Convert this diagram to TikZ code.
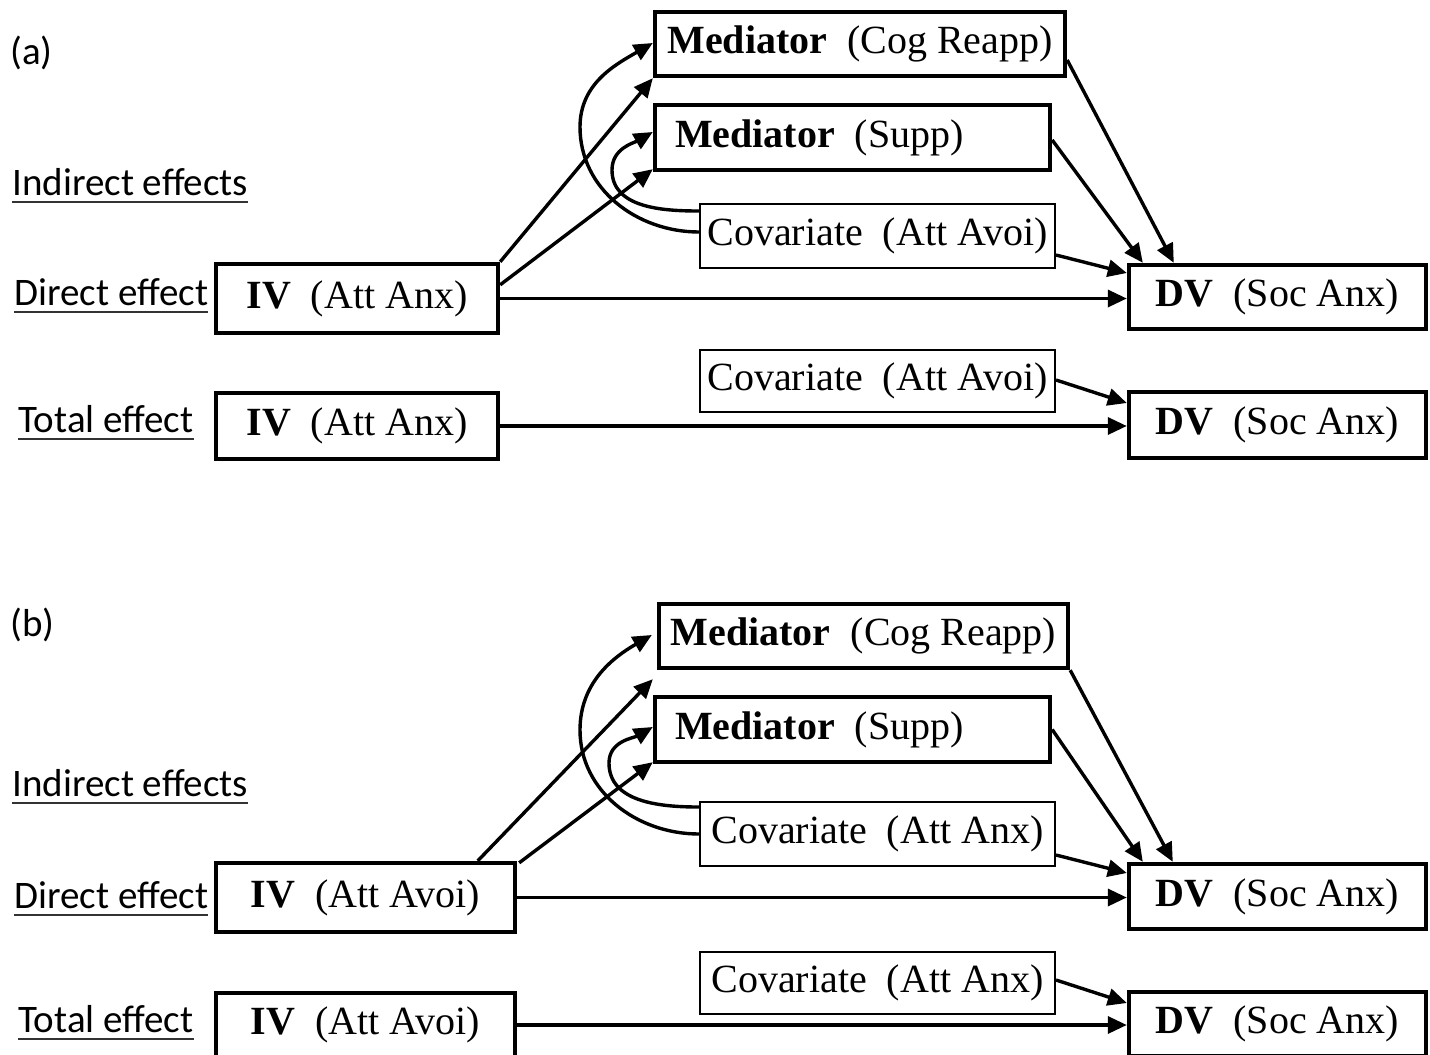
\documentclass[tikz,border=0pt]{standalone}
\usepackage{fontspec}
\setmainfont{Liberation Serif}
\newfontfamily\labfont{Carlito}
\usetikzlibrary{arrows.meta,calc}
\tikzset{
  boxfont/.style={font=\fontsize{20}{23}\selectfont},
  thickbox/.style={draw, line width=2.2pt, boxfont, inner sep=0pt, align=center},
  thinbox/.style={draw, line width=1pt, boxfont, inner sep=0pt, align=center},
  lab/.style={font=\labfont\fontsize{19.5}{23}\selectfont, inner sep=0pt, anchor=base west},
  arr/.style={line width=1.7pt, -{Triangle[length=9.5pt,width=8.5pt]}},
  uline/.style={line width=1.3pt, draw=black!80}
}
\newcommand{\leftbox}[1]{\makebox[177.5pt][l]{#1}}
\begin{document}
\begin{tikzpicture}[x=0.5pt,y=0.5pt]
\useasboundingbox (0,0) rectangle (1430,-1055);

% ---------------- panel (a) ----------------
\node[lab] (taga) at (10,-64) {(a)};
\node[lab] (ia) at (12,-195) {Indirect effects};
\node[lab] (da) at (14,-305) {Direct effect};
\node[lab] (ta) at (18,-432) {Total effect};

\node[thickbox, minimum width=205pt, minimum height=32pt] (med1a) at (860,-44) {\textbf{Mediator}\ \ (Cog Reapp)};
\node[thickbox, minimum width=197.5pt, minimum height=32.5pt] (med2a) at (852.5,-137.5) {\leftbox{\textbf{Mediator}\ \ (Supp)}};
\node[thinbox, minimum width=177.5pt, minimum height=32pt] (cova) at (877.5,-236) {Covariate\ \ (Att Avoi)};
\node[thickbox, minimum width=141pt, minimum height=34.5pt] (iva) at (357,-298.5) {\textbf{IV}\ \ (Att Anx)};
\node[thickbox, minimum width=148.5pt, minimum height=32pt] (dva) at (1277.5,-297) {\textbf{DV}\ \ (Soc Anx)};
\node[thinbox, minimum width=177.5pt, minimum height=31pt] (cov2a) at (877.5,-381) {Covariate\ \ (Att Avoi)};
\node[thickbox, minimum width=141pt, minimum height=33pt] (iv2a) at (357,-426) {\textbf{IV}\ \ (Att Anx)};
\node[thickbox, minimum width=148.5pt, minimum height=33pt] (dv2a) at (1277.5,-425) {\textbf{DV}\ \ (Soc Anx)};

\coordinate (ka1) at (580,-127);
\coordinate (ka2) at (612,-170);

\draw[arr] (iva.north east) -- (med1a.south west);
\draw[arr] ($(iva.north east)+(0,-23)$) -- ($(med2a.south west)+(0,3)$);
\draw[arr] (iva.east) -- (iva.east -| dva.west);
\draw[arr] ($(cova.west)+(0,4)$) to[out=180,in=-90] (ka1) to[out=90,in=210] ($(med1a.west)+(0,1)$);
\draw[arr] ($(cova.west)+(0,25)$) to[out=180,in=-90] (ka2) to[out=90,in=210] ($(med2a.west)+(0,5.5)$);
\draw[arr] ($(med1a.east)+(0,-16)$) -- ($(dva.north west)+(47,0)$);
\draw[arr] ($(med2a.east)+(0,-2.5)$) -- ($(dva.north west)+(16,0)$);
\draw[arr] ($(cova.east)+(0,-19)$) -- ($(dva.west)+(0,24)$);
\draw[arr] ($(cov2a.east)+(0,1)$) -- ($(dv2a.west)+(0,22)$);
\draw[arr] (iv2a.east) -- (iv2a.east -| dv2a.west);

% ---------------- panel (b) ----------------
\node[lab] (tagb) at (10,-636) {(b)};
\node[lab] (ib) at (12,-796) {Indirect effects};
\node[lab] (db) at (14,-908) {Direct effect};
\node[lab] (tb) at (18,-1032) {Total effect};

\node[thickbox, minimum width=204.5pt, minimum height=32pt] (med1b) at (863.5,-636) {\textbf{Mediator}\ \ (Cog Reapp)};
\node[thickbox, minimum width=197.5pt, minimum height=32.5pt] (med2b) at (852.5,-729.5) {\leftbox{\textbf{Mediator}\ \ (Supp)}};
\node[thinbox, minimum width=177.5pt, minimum height=32pt] (covb) at (877.5,-834) {Covariate\ \ (Att Anx)};
\node[thickbox, minimum width=149.5pt, minimum height=34.5pt] (ivb) at (365.5,-897.5) {\textbf{IV}\ \ (Att Avoi)};
\node[thickbox, minimum width=148.5pt, minimum height=32.5pt] (dvb) at (1277.5,-896.5) {\textbf{DV}\ \ (Soc Anx)};
\node[thinbox, minimum width=177.5pt, minimum height=31pt] (cov2b) at (877.5,-983) {Covariate\ \ (Att Anx)};
\node[thickbox, minimum width=149.5pt, minimum height=32pt] (iv2b) at (365.5,-1025) {\textbf{IV}\ \ (Att Avoi)};
\node[thickbox, minimum width=148.5pt, minimum height=32pt] (dv2b) at (1277.5,-1024) {\textbf{DV}\ \ (Soc Anx)};

\coordinate (kb1) at (580,-730);
\coordinate (kb2) at (609,-763);

\draw[arr] ($(ivb.north west)+(264,0)$) -- ($(med1b.south west)+(-4,-9)$);
\draw[arr] ($(ivb.north east)+(2,-2)$) -- ($(med2b.south west)+(0,2)$);
\draw[arr] (ivb.east) -- (ivb.east -| dvb.west);
\draw[arr] (covb.west) to[out=180,in=-90] (kb1) to[out=90,in=210] ($(med1b.west)+(-5,1)$);
\draw[arr] ($(covb.west)+(0,27)$) to[out=180,in=-90] (kb2) to[out=90,in=210] ($(med2b.west)+(0,2.5)$);
\draw[arr] (med1b.south east) -- ($(dvb.north west)+(46,0)$);
\draw[arr] (med2b.east) -- ($(dvb.north west)+(16,0)$);
\draw[arr] ($(covb.east)+(0,-21)$) -- ($(dvb.west)+(0,23.5)$);
\draw[arr] ($(cov2b.east)+(0,3)$) -- ($(dv2b.west)+(0,21)$);
\draw[arr] (iv2b.east) -- (iv2b.east -| dv2b.west);

% underlines of the row labels
\foreach \n in {ia,da,ta,ib,db,tb}{
  \draw[uline] ($(\n.base west)+(0,-7)$) -- ($(\n.base east)+(0,-7)$);
}
\end{tikzpicture}
\end{document}
